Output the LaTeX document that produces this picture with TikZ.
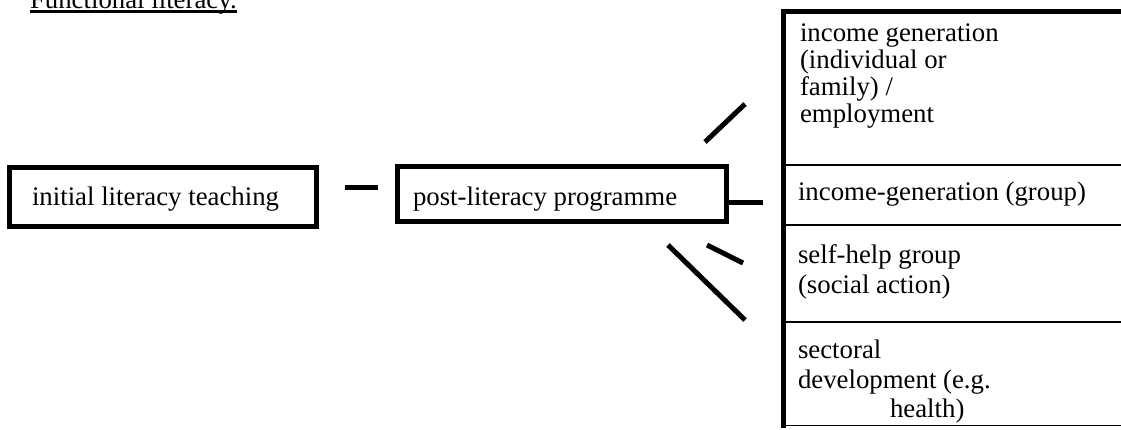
\documentclass[tikz,border=0pt]{standalone}
\usepackage{fontspec}
\setmainfont{Liberation Serif}
\begin{document}
\begin{tikzpicture}[x=1pt,y=-1pt,
  txt/.style={anchor=base west, inner sep=0pt, outer sep=0pt, font=\fontsize{26.8}{27}\selectfont},
  boxframe/.style={draw, line width=5pt, inner sep=0pt, outer sep=0pt, anchor=north west},
  heavy/.style={line width=5pt},
  rulethin/.style={line width=2.5pt},
  rulehair/.style={line width=1.6pt}]
\useasboundingbox (0,0) rectangle (1121,429);
\clip (0,0) rectangle (1121,429);
\fill[white] (0,0) rectangle (1121,429);

% title
\node[txt] (title) at (30,8) {Functional literacy.};
\draw[line width=2.5pt] ([yshift=-3.5pt]title.base west) -- ([yshift=-3.5pt]title.base east);

% left boxes
\node[boxframe, minimum width=306.5pt, minimum height=59pt] (b1) at (9.5,167) {};
\node[txt] (t1) at (32,205) {initial literacy teaching};
\node[boxframe, minimum width=328.5pt, minimum height=55pt] (b2) at (397.5,166) {};
\node[txt] (t2) at (413,205) {post-literacy programme};

% connector strokes
\coordinate (d1a) at (345,187);
\coordinate (d1b) at (378,187);
\draw[heavy] (d1a) -- (d1b);
\coordinate (d2b) at (763,202);
\draw[heavy] (b2.east |- d2b) -- (d2b);
\coordinate (u1) at (705,142);
\coordinate (u2) at (745,104);
\draw[heavy] (u1) -- (u2);
\coordinate (s1) at (707,245);
\coordinate (s2) at (743,263);
\draw[heavy] (s1) -- (s2);
\coordinate (l1) at (668,245);
\coordinate (l2) at (745,320);
\draw[heavy] (l1) -- (l2);

% right column
\coordinate (ctl) at (783,11);
\coordinate (cbl) at (783,426);
\draw[heavy] (ctl) -- (1121,11);
\draw[heavy] ([yshift=2pt]ctl) -- ([yshift=-2pt]cbl);
\draw[rulethin] (783,165) -- (1121,165);
\draw[rulethin] (783,225) -- (1121,225);
\draw[rulethin] (783,322) -- (1121,322);
\draw[rulehair] (783,425.5) -- (1121,425.5);

\node[txt] (c1a) at (800,41) {income generation};
\node[txt] (c1b) at (800,68) {(individual or};
\node[txt] (c1c) at (800,95) {family) /};
\node[txt] (c1d) at (800,122) {employment};
\node[txt] (c2) at (798,200) {income-generation (group)};
\node[txt] (c3a) at (798,263) {self-help group};
\node[txt] (c3b) at (798,293) {(social action)};
\node[txt] (c4a) at (798,358) {sectoral};
\node[txt] (c4b) at (798,388) {development (e.g.};
\node[txt] (c4c) at (890,417) {health)};
\end{tikzpicture}
\end{document}
